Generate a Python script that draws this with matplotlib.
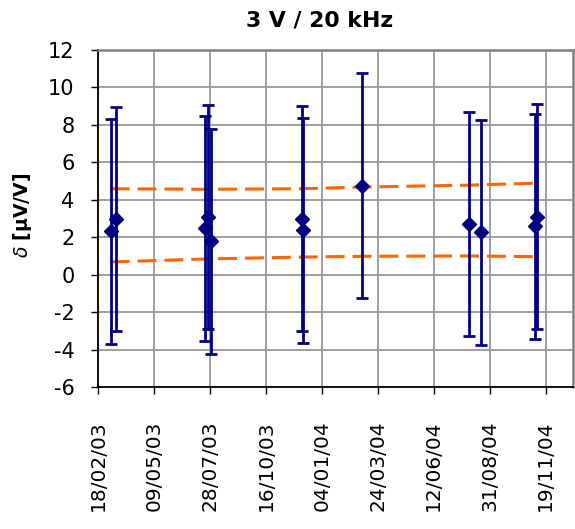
import matplotlib
matplotlib.use("Agg")
import matplotlib.pyplot as plt
import matplotlib.dates as mdates
import numpy as np

# ---- data ----
meas_dates = ["2003-03-08", "2003-03-16", "2003-07-21", "2003-07-25", "2003-07-30",
              "2003-12-06", "2003-12-08", "2004-03-01", "2004-08-01", "2004-08-18",
              "2004-11-04", "2004-11-07"]
delta = [2.31, 2.97, 2.48, 3.08, 1.78, 3.00, 2.37, 4.76, 2.70, 2.27, 2.58, 3.09]
uncert = [6.0] * 12

bound_dates = ["2003-03-08", "2003-07-25", "2003-12-07", "2004-03-01", "2004-08-01", "2004-11-07"]
upper_bound = [4.59, 4.56, 4.59, 4.68, 4.78, 4.89]
lower_bound = [0.68, 0.84, 0.94, 0.98, 1.00, 0.96]

tick_start = "2003-02-18"
tick_step_days = 80
n_ticks = 9
x_max = "2004-12-28"
y_ticks = list(range(-6, 13, 2))

title = "3 V / 20 kHz"
ylabel = r"$\it{\delta}$ [µV/V]"

# ---- plot ----
plt.rcParams['font.family'] = ['DejaVu Sans']
plt.rcParams['axes.unicode_minus'] = False
fig = plt.figure(figsize=(5.75, 5.29), dpi=100)
ax = fig.add_axes([98/575, (529-387)/529, (573-98)/575, (387-50)/529])

md = np.array(meas_dates, dtype="datetime64[D]").astype("O")
bd = np.array(bound_dates, dtype="datetime64[D]").astype("O")

navy = "#000080"
orange = "#FF6600"

ax.plot(bd, upper_bound, color=orange, lw=2.2, linestyle=(0, (6.2, 2.6)), zorder=3)
ax.plot(bd, lower_bound, color=orange, lw=2.2, linestyle=(0, (6.2, 2.6)), zorder=3)

ax.errorbar(md, delta, yerr=uncert, fmt="D", color=navy, ecolor=navy,
            elinewidth=2.0, capsize=4.2, capthick=2.0, markersize=7.5,
            zorder=4)

t0 = np.datetime64(tick_start)
ticks = [(t0 + np.timedelta64(i * tick_step_days, "D")).astype("O") for i in range(n_ticks)]
ax.set_xticks(ticks)
ax.xaxis.set_major_formatter(mdates.DateFormatter("%d/%m/%y"))
ax.set_xlim(ticks[0], np.datetime64(x_max).astype("O"))
ax.set_ylim(-6, 12)
ax.set_yticks(y_ticks)

ax.grid(True, color="#999999", lw=1.3)
ax.set_axisbelow(True)

for s in ["top", "right"]:
    ax.spines[s].set_color("#808080")
    ax.spines[s].set_linewidth(1.8)
for s in ["left", "bottom"]:
    ax.spines[s].set_color("black")
    ax.spines[s].set_linewidth(1.3)

ax.tick_params(axis="y", direction="out", length=5, width=1, pad=12, labelsize=15)
ax.tick_params(axis="x", direction="out", length=5, width=1, pad=19, labelsize=14.5,
               labelrotation=90)

fig.text(320/575, 1 - 20/529, title, ha="center", va="center",
         fontsize=15.8, fontweight="bold")
fig.text(23/575, 1 - 215/529, ylabel, ha="center", va="center", rotation=90,
         fontsize=13.5, fontweight="bold")

fig.savefig("out.png", dpi=100)
